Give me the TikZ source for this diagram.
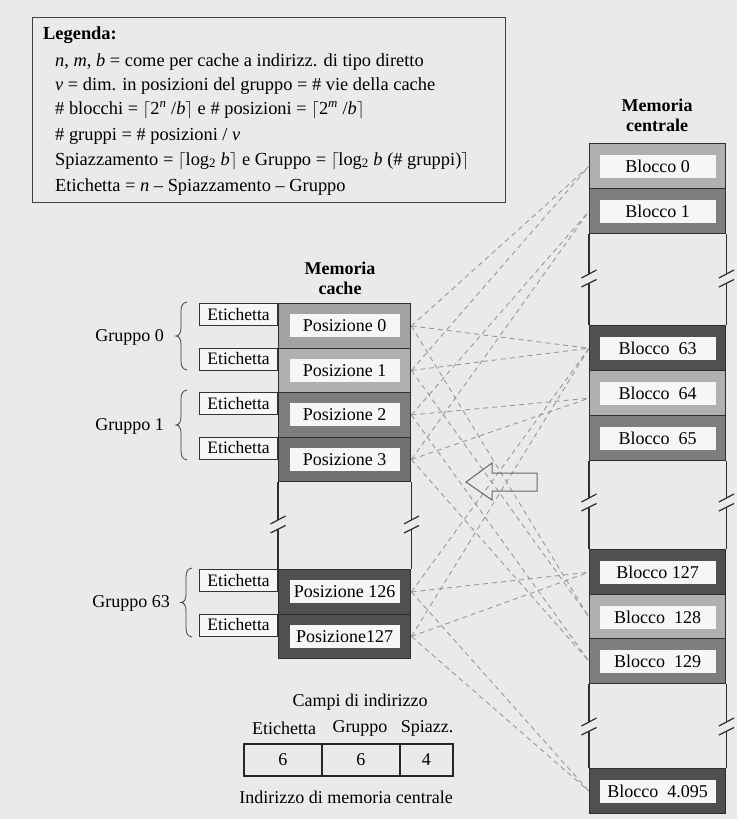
\documentclass[tikz,border=0pt]{standalone}
\usepackage{fontspec}
\setmainfont{Liberation Serif}
\begin{document}
\begin{tikzpicture}[x=1pt,y=-1pt,
  txt/.style={font=\fontsize{18.4}{21}\selectfont, inner sep=0pt},
  ttl/.style={font=\bfseries\fontsize{18}{20}\selectfont, align=center, inner sep=0pt},
  cell/.style={draw=black!82, line width=1.4pt, inner sep=0pt, anchor=north west},
  ccell/.style={cell, minimum width=132pt, minimum height=44.5pt},
  mcell/.style={cell, minimum width=136pt, minimum height=45pt},
  lbl/.style={fill=labelw, inner sep=0pt, minimum height=23pt, font=\fontsize{18}{20}\selectfont},
  clbl/.style={lbl, minimum width=110pt},
  mlbl/.style={lbl, minimum width=116pt},
  tagbox/.style={draw=black!80, line width=0.9pt, fill=labelw, inner sep=0pt,
     minimum width=78pt, minimum height=22pt, anchor=north west, font=\fontsize{17.5}{20}\selectfont},
  edge/.style={draw=black!82, line width=1.4pt},
  brk/.style={draw=black!82, line width=1.2pt},
  conn/.style={draw=black!42, line width=0.85pt, dash pattern=on 5pt off 4pt},
  bracestroke/.style={draw=black!75, line width=0.8pt},
  field/.style={draw=black!85, line width=1.8pt, inner sep=0pt, anchor=north west,
     minimum height=32pt, font=\fontsize{18}{20}\selectfont},
  small/.style={font=\fontsize{18}{20}\selectfont, inner sep=0pt}
]
\definecolor{bg}{RGB}{234,234,232}
\definecolor{labelw}{RGB}{246,246,244}
\definecolor{lightc}{RGB}{176,176,176}
\definecolor{midc}{RGB}{126,126,126}
\definecolor{darkc}{RGB}{80,80,80}
\fill[bg] (0,0) rectangle (737,819);
\useasboundingbox (0,0) rectangle (737,819);

% ---------------- legend ----------------
\node[draw=black!75, line width=0.8pt, anchor=north west, minimum width=473pt, minimum height=185pt, inner sep=0pt] (legend) at (32,17) {};
\node[txt, anchor=base west, font=\bfseries\fontsize{18.4}{21}\selectfont] (lg0) at (43,39) {Legenda:};
\node[txt, anchor=base west] (lg1) at (55,66) {\textit{n}, \textit{m}, \textit{b} = come per cache a indirizz. di tipo diretto};
\node[txt, anchor=base west] (lg2) at (55,90) {\textit{v} = dim. in posizioni del gruppo = \# vie della cache};
\node[txt, anchor=base west] (lg3) at (55,114) {\# blocchi = $\lceil$2\textsuperscript{\textit{n}} /\textit{b}$\rceil$ e \# posizioni = $\lceil$2\textsuperscript{\textit{m}} /\textit{b}$\rceil$};
\node[txt, anchor=base west] (lg4) at (55,140) {\# gruppi = \# posizioni / \textit{v}};
\node[txt, anchor=base west] (lg5) at (55,165) {Spiazzamento = $\lceil$log\textsubscript{2} \textit{b}$\rceil$ e Gruppo = $\lceil$log\textsubscript{2} \textit{b} (\# gruppi)$\rceil$};
\node[txt, anchor=base west] (lg6) at (55,191) {Etichetta = \textit{n} -- Spiazzamento -- Gruppo};

% ---------------- main memory ----------------
\node[ttl] (mtitle) at (657,115) {Memoria\\centrale};
\node[mcell, fill=lightc] (m0) at (589,143) {};
\node[mcell, fill=midc] (m1) at (589,188) {};
\node[mcell, fill=darkc] (m63) at (589,325) {};
\node[mcell, fill=lightc] (m64) at (589,370) {};
\node[mcell, fill=midc] (m65) at (589,415) {};
\node[mcell, fill=darkc] (m127) at (589,549) {};
\node[mcell, fill=lightc] (m128) at (589,594) {};
\node[mcell, fill=midc] (m129) at (589,638) {};
\node[mcell, fill=darkc] (m4095) at (589,768) {};
\foreach \n/\t in {m0/Blocco 0, m1/Blocco 1, m63/Blocco\ \ 63, m64/Blocco\ \ 64, m65/Blocco\ \ 65,
    m127/Blocco 127, m128/Blocco\ \ 128, m129/Blocco\ \ 129, m4095/Blocco\ \ 4.095}
  \node[mlbl] (\n l) at (\n) {\t};

% ---------------- cache ----------------
\node[ttl] (ctitle) at (340,278) {Memoria\\cache};
\node[ccell, fill=lightc!92!black] (p0) at (278,303) {};
\node[ccell, fill=lightc] (p1) at (278,347.5) {};
\node[ccell, fill=midc] (p2) at (278,392) {};
\node[ccell, fill=midc!90!black] (p3) at (278,436.5) {};
\node[ccell, fill=darkc] (p126) at (278,569) {};
\node[ccell, fill=darkc] (p127) at (278,613.5) {};
\foreach \n/\t in {p0/Posizione 0, p1/Posizione 1, p2/Posizione 2, p3/Posizione 3,
    p126/Posizione 126, p127/Posizione127}
  \node[clbl] (\n l) at (\n) {\t};
\foreach \n in {p0,p1,p2,p3,p126,p127}
  \node[tagbox, anchor=north east] (\n t) at (\n.north west) {Etichetta};

% ---------------- empty stretches with break marks ----------------
% upper cell / lower cell / height of the break
\foreach \a/\b/\c in {m1/m63/279, m65/m127/503, m129/m4095/727, p3/p126/525}{
  \foreach \s in {west,east}{
    \draw[edge] (\a.south \s) -- (\a.south \s |- 0,\c-5);
    \draw[edge] (\b.north \s) -- (\b.north \s |- 0,\c+4.5);
    \draw[brk] ([xshift=-7.5pt]\a.south \s |- 0,\c-1) -- ([xshift=7.5pt]\a.south \s |- 0,\c-9);
    \draw[brk] ([xshift=-7.5pt]\a.south \s |- 0,\c+8) -- ([xshift=7.5pt]\a.south \s |- 0,\c+0.5);
  }
}

% ---------------- group braces ----------------
\foreach \tx/\ya/\yb in {176/302/370, 176/390/460, 181/568/637}{
  \pgfmathsetmacro\ym{(\ya+\yb)/2}
  \draw[bracestroke] (\tx+11,\ya) .. controls (\tx+6,\ya+1) and (\tx+5,\ya+4) .. (\tx+5,\ya+10)
     -- (\tx+5,\ym-8) .. controls (\tx+5,\ym-3) and (\tx+3,\ym) .. (\tx,\ym)
     .. controls (\tx+3,\ym) and (\tx+5,\ym+3) .. (\tx+5,\ym+8)
     -- (\tx+5,\yb-10) .. controls (\tx+5,\yb-4) and (\tx+6,\yb-1) .. (\tx+11,\yb);
}
\node[small, anchor=east] (g0) at (164,337) {Gruppo 0};
\node[small, anchor=east] (g1) at (164,426) {Gruppo 1};
\node[small, anchor=east] (g63) at (170,603) {Gruppo 63};

% ---------------- mapping between cache positions and blocks ----------------
\coordinate (tA) at (m63.west);
\coordinate (tB) at ([yshift=-5pt]m64.west);
\foreach \p in {p0,p1}
  \foreach \t in {m0.west, tA, m128.west}
    \draw[conn] (\p.east) -- (\t);
\foreach \p in {p2,p3}
  \foreach \t in {m1.west, tB, m129.west}
    \draw[conn] (\p.east) -- (\t);
\foreach \p in {p126,p127}
  \foreach \t in {tA, m127.west, m4095.west}
    \draw[conn] (\p.east) -- (\t);

% ---------------- hollow arrow ----------------
\draw[draw=black!60, line width=1pt] (466,482) -- (492,463) -- (492,473) -- (537,473) -- (537,491)
   -- (492,491) -- (492,500) -- cycle;

% ---------------- address fields ----------------
\node[small] (ftitle) at (360,702) {Campi di indirizzo};
\node[field, minimum width=78pt] (f1) at (243,743) {6};
\node[field, minimum width=78pt] (f2) at (321,743) {6};
\node[field, minimum width=53pt] (f3) at (399,743) {4};
\node[small] (h1) at (284,728) {Etichetta};
\node[small] (h2) at (360,728) {Gruppo};
\node[small] (h3) at (427,728) {Spiazz.};
\node[small] (fcap) at (346,797) {Indirizzo di memoria centrale};
\end{tikzpicture}
\end{document}
